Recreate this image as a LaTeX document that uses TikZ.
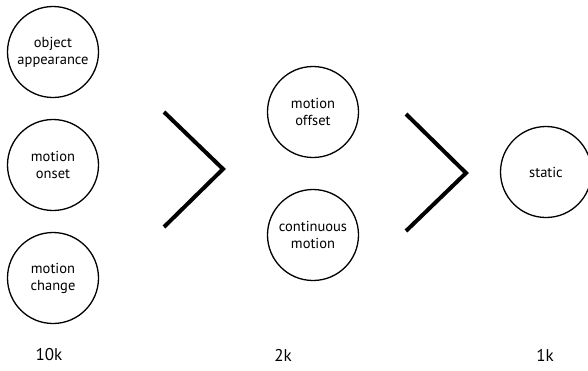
\documentclass[tikz,border=0pt]{standalone}
\usepackage{fontspec}
\setmainfont{PT Sans}
\begin{document}
\begin{tikzpicture}[x=1pt,y=-1pt,
  stage/.style={circle,draw,line width=1.3pt,minimum size=91pt,inner sep=0pt,
    align=center,font=\fontsize{14.5}{17}\selectfont},
  chevron/.style={line width=4pt,line cap=butt,line join=miter},
  count/.style={font=\fontsize{17}{19}\selectfont}]
\useasboundingbox (0,0) rectangle (588,370);
% first stage: three event types
\node[stage] (appear) at (53,52) {object\\appearance};
\node[stage] (onset)  at (53,165) {motion\\onset};
\node[stage] (change) at (53,278) {motion\\change};
% second stage
\node[stage] (offset) at (313,112) {motion\\offset};
\node[stage] (cont)   at (313,235) {continuous\\motion};
% third stage
\node[stage] (static) at (546,172) {static};
% ordering chevrons
\coordinate (c1a) at (164,112);
\coordinate (c1b) at (223,169);
\coordinate (c1c) at (164,227);
\draw[chevron] (c1a) -- (c1b) -- (c1c);
\coordinate (c2a) at (406,114);
\coordinate (c2b) at (466,173);
\coordinate (c2c) at (406,231);
\draw[chevron] (c2a) -- (c2b) -- (c2c);
% counts
\node[count] (n1) at (49,355) {10k};
\node[count] (n2) at (283,355) {2k};
\node[count] (n3) at (545,355) {1k};
\end{tikzpicture}
\end{document}
